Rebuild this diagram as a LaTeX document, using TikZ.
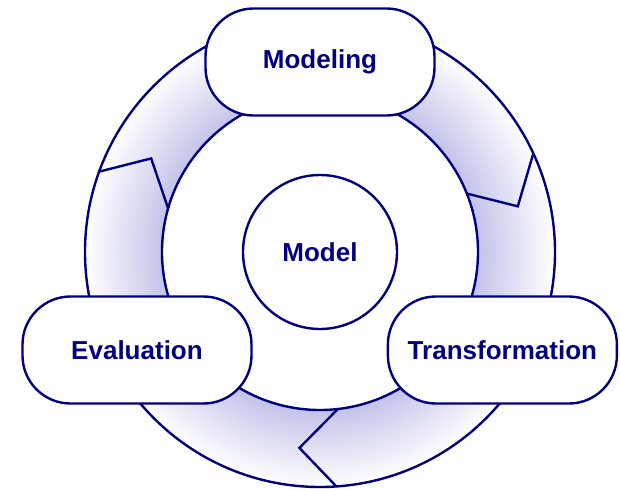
\documentclass[tikz,border=0pt]{standalone}
\usepackage{fontspec}
\setmainfont{Liberation Sans}
\usepackage{tikz}
\tikzset{>=latex}
\usetikzlibrary{shapes.geometric}
\definecolor{cycleline}{HTML}{000080}
\definecolor{cyclefill}{HTML}{C3C3EA}
% radii of the ring in bp: 3.95cm = 112bp, 5.875cm = 166.5bp
\pgfdeclareradialshading{ringshade}{\pgfpointorigin}{color(0bp)=(cyclefill); color(112bp)=(cyclefill); color(166.5bp)=(white); color(170bp)=(white)}
\tikzset{
  ringline/.style={cycleline, line width=1.7pt, line join=miter},
  stage/.style={draw=cycleline, line width=1.7pt, fill=white, rounded corners=1.2cm,
    minimum width=5.725cm, minimum height=2.675cm, text=cycleline,
    font=\fontsize{18.5}{22}\selectfont\bfseries},
  core/.style={draw=cycleline, line width=1.7pt, fill=white, circle, minimum size=3.85cm,
    text=cycleline, font=\fontsize{18.5}{22}\selectfont\bfseries},
}

\begin{document}
\begin{tikzpicture}
            \useasboundingbox (-8, -5.9) rectangle (7.5, 6.3);
            % shaded ring
            \begin{scope}
                \clip (0, 0) circle [radius = 5.875];
                \pgftext{\pgfuseshading{ringshade}}
            \end{scope}
            \fill[white] (0, 0) circle [radius = 3.95];
            \draw[ringline] (0, 0) circle [radius = 5.875];
            \draw[ringline] (0, 0) circle [radius = 3.95];
            % arrow heads along the ring
            \draw[ringline] (160:5.875) -- (151:4.825) -- (164:3.95);
            \draw[ringline] (24.8:5.875) -- (13:5.075) -- (21.7:3.95);
            \draw[ringline] (274:5.875) -- (264:4.925) -- (276.5:3.95);
            \node[core] (model) at (0, 0) {Model};
            \node[stage] (modeling) at (0, 4.75) {Modeling};
            \node[stage] (evaluation) at (-4.575, -2.45) {Evaluation};
            \node[stage] (transformation) at (4.56, -2.45) {Transformation};
        \end{tikzpicture}
\end{document}
